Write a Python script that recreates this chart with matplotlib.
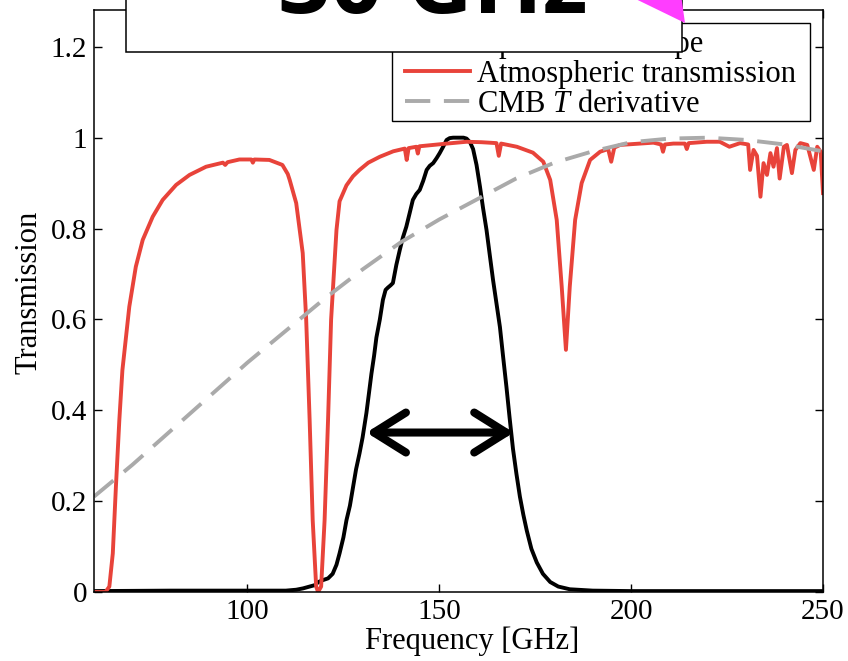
#!/usr/bin/env python3
"""
Bandpass vs. atmospheric transmission and the CMB temperature derivative,
with the "~30 GHz" call-out box on top.
"""

import matplotlib
matplotlib.use("Agg")
import matplotlib.pyplot as plt
from matplotlib.patches import Rectangle, Polygon


# Detector bandpass (black).
band_freq = [60, 80, 100, 110, 112.7, 114.5, 116.2, 117.5, 118.5, 119.6, 121, 122.2,
             123.2, 124, 125, 125.8, 126.7, 127.5, 128.3, 129.2, 130, 131, 131.7,
             132.3, 133, 133.6, 134.5, 135.3, 136, 136.6, 137.3, 137.9, 138.8, 139.7,
             140.5, 141.4, 142.3, 143.1, 144, 144.9, 145.8, 146.7, 147.5, 148.4,
             149.3, 150.1, 151, 151.9, 152.7, 153.6, 155, 156.3, 157.1, 158, 158.8,
             159.7, 160.6, 161.4, 162.3, 163.1, 164, 164.9, 165.8, 166.6, 167.5,
             168.3, 169.2, 170.1, 171, 171.9, 172.8, 174, 175.4, 177, 178.9, 181,
             184, 190, 200, 220, 250]
band_resp = [0.002, 0.003, 0.003, 0.003, 0.005, 0.008, 0.012, 0.015, 0.022, 0.026, 0.03,
             0.04, 0.06, 0.085, 0.12, 0.158, 0.19, 0.23, 0.27, 0.305, 0.34, 0.394,
             0.44, 0.48, 0.52, 0.56, 0.6, 0.643, 0.665, 0.67, 0.675, 0.68, 0.72, 0.753,
             0.78, 0.804, 0.835, 0.863, 0.876, 0.885, 0.905, 0.929, 0.938, 0.944,
             0.955, 0.966, 0.98, 0.995, 0.999, 1.0, 1.0, 1.0, 0.998, 0.99, 0.975,
             0.94, 0.892, 0.845, 0.797, 0.745, 0.687, 0.635, 0.583, 0.52, 0.451,
             0.385, 0.315, 0.26, 0.21, 0.17, 0.135, 0.095, 0.065, 0.04, 0.022, 0.012,
             0.006, 0.003, 0.002, 0.002, 0.002]

# Atmospheric transmission (red).
atm_freq = [60, 63, 64, 64.9, 65.7, 66.6, 67.4, 69.2, 70.9, 72.7, 75.3, 77.9, 81.4,
            84.9, 89.2, 93.6, 94.2, 94.8, 97.9, 101.0, 101.4, 101.8, 105.7, 109.1,
            110.5, 111, 112.7, 114.4, 115.3, 116.2, 117, 117.9, 118.4, 119.2, 120.1,
            121, 121.8, 123.2, 124, 125.8, 127.5, 129.2, 131.5, 134.5, 138, 141,
            141.5, 142, 144, 144.4, 144.8, 148.4, 152, 157.1, 161, 164.9, 165.5,
            166.1, 170.2, 174.4, 177.1, 178.9, 180.6, 181.9, 183, 184, 185.4, 187.1,
            189.3, 191.9, 194, 194.8, 195.6, 197.1, 205.8, 207.8, 208.3, 208.8, 211,
            214, 214.5, 215, 219.7, 223.1, 225.6, 228.4, 230.5, 231, 231.9, 232.8,
            233.7, 234.5, 235.4, 236.3, 237.1, 238, 238.7, 239.8, 240.6, 241.9,
            242.8, 244.1, 245.9, 247.6, 248.5, 249.4, 250]
atm_trans = [0, 0, 0.012, 0.085, 0.23, 0.378, 0.488, 0.628, 0.716, 0.775, 0.826, 0.863,
             0.896, 0.918, 0.936, 0.945, 0.94, 0.946, 0.952, 0.952, 0.945, 0.952,
             0.951, 0.94, 0.92, 0.907, 0.856, 0.746, 0.6, 0.379, 0.158, 0.012, 0.0,
             0.012, 0.158, 0.379, 0.6, 0.797, 0.86, 0.895, 0.915, 0.929, 0.945, 0.958,
             0.97, 0.976, 0.951, 0.977, 0.98, 0.965, 0.981, 0.984, 0.987, 0.991, 0.99,
             0.988, 0.96, 0.987, 0.98, 0.967, 0.947, 0.907, 0.819, 0.672, 0.533,
             0.672, 0.819, 0.9, 0.951, 0.969, 0.975, 0.947, 0.978, 0.984, 0.989,
             0.985, 0.969, 0.985, 0.987, 0.987, 0.975, 0.988, 0.991, 0.991, 0.98,
             0.988, 0.985, 0.929, 0.973, 0.96, 0.87, 0.944, 0.918, 0.966, 0.936,
             0.977, 0.91, 0.98, 0.984, 0.922, 0.973, 0.988, 0.984, 0.929, 0.98, 0.969,
             0.878]

# CMB temperature derivative (grey dashed), normalised to its peak.
cmb_freq = [60, 70, 80, 90, 100, 110, 120, 130, 140, 150, 160, 170, 180, 190, 200,
            210, 220, 230, 240, 250]
cmb_deriv = [0.21, 0.28, 0.355, 0.43, 0.505, 0.575, 0.645, 0.71, 0.77, 0.82, 0.865,
             0.91, 0.945, 0.97, 0.99, 0.998, 1.0, 0.995, 0.985, 0.97]

x_ticks = [100, 150, 200, 250]
y_ticks = [0, 0.2, 0.4, 0.6, 0.8, 1.0, 1.2]
y_tick_labels = ["0", "0.2", "0.4", "0.6", "0.8", "1", "1.2"]

legend_labels = ["Optical bandshape", "Atmospheric transmission", "CMB $T$ derivative"]
callout_text = "~30 GHz"

# FWHM arrow ends (GHz) and height.
arrow_lo, arrow_hi, arrow_y = 131.0, 169.4, 0.351


def main():
    plt.rcParams["font.family"] = ["Liberation Serif", "DejaVu Serif"]
    plt.rcParams["mathtext.fontset"] = "custom"
    plt.rcParams["mathtext.rm"] = "Liberation Serif"
    plt.rcParams["mathtext.it"] = "Liberation Serif:italic"

    W, H = 848, 661
    fig = plt.figure(figsize=(W / 100, H / 100), dpi=100)
    ax = fig.add_axes([94 / W, 1 - 592 / H, (823 - 94) / W, (592 - 10) / H])

    red = "#E8433A"
    ax.plot(band_freq, band_resp, color="black", lw=2.8, label=legend_labels[0])
    ax.plot(atm_freq, atm_trans, color=red, lw=2.8, label=legend_labels[1])
    cmb, = ax.plot(cmb_freq, cmb_deriv, color="#AAAAAA", lw=2.8, label=legend_labels[2])
    cmb.set_dashes([6.5, 3.5])

    ax.set_xlim(60, 250)
    ax.set_ylim(0, 1.281)
    ax.set_xticks(x_ticks)
    ax.set_yticks(y_ticks)
    ax.set_yticklabels(y_tick_labels)
    ax.tick_params(direction="in", length=5.8, width=1, top=True, right=True,
                   labelsize=21, pad=5, colors="black")
    for sp in ax.spines.values():
        sp.set_linewidth(1.1)

    ax.set_xlabel("Frequency [GHz]", fontsize=22)
    ax.set_ylabel("Transmission", fontsize=22)
    ax.xaxis.set_label_coords(0.5185, -0.06)
    ax.yaxis.set_label_coords(-0.069, 0.515)

    # legend entries without a frame; the frame is drawn as its own box
    ax.legend(loc="upper left", bbox_to_anchor=(405 / W, 1 - 29.5 / H),
              bbox_transform=fig.transFigure, borderaxespad=0, borderpad=0,
              fontsize=22, frameon=False, handlelength=2.12, handletextpad=0.23,
              labelspacing=0.03)
    fig.add_artist(Rectangle((392 / W, 1 - 121 / H), (810 - 392) / W, (121 - 23) / H,
                             transform=fig.transFigure, facecolor="none",
                             edgecolor="black", lw=1.0, zorder=5))

    # FWHM double arrow
    ax.annotate("", xy=(arrow_hi, arrow_y), xytext=(arrow_lo, arrow_y),
                arrowprops=dict(arrowstyle="<->,head_length=1.15,head_width=0.72",
                                mutation_scale=20, lw=5.8, color="black",
                                shrinkA=0, shrinkB=0, capstyle="round",
                                joinstyle="round"))

    # call-out box over the top of the plot
    box = Rectangle((126 / W, 1 - 52 / H), (682 - 126) / W, 0.2,
                    transform=fig.transFigure, facecolor="white", edgecolor="black",
                    lw=1.1, zorder=10)
    fig.add_artist(box)
    fig.text(588 / W, 1 - 13 / H, callout_text, family="Open Sans", weight="bold",
             fontsize=66, ha="right", va="baseline", color="black", zorder=11)

    # magenta arrow head pointing at the legend
    head = [(685, 23), (623.9, -6.7), (675.5, -44.3)]
    head = [(x / W, 1 - y / H) for x, y in head]
    fig.add_artist(Polygon(head, closed=True, transform=fig.transFigure,
                           facecolor="#FF3DFF", edgecolor="none", zorder=12))

    fig.savefig("out.png", dpi=100)


if __name__ == "__main__":
    main()
